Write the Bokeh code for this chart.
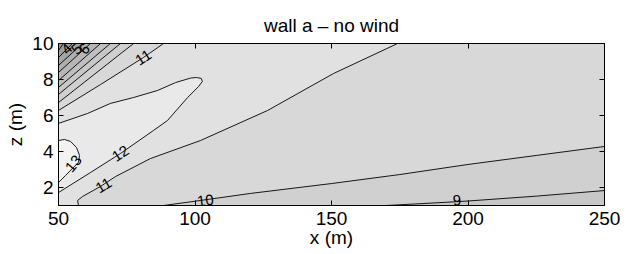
from math import radians
from bokeh.plotting import figure
from bokeh.models import Range1d, FixedTicker, LinearAxis, Label
from bokeh.embed import file_html
from bokeh.resources import INLINE

# ---- data (x in m, z in m) ----
x_ticks = [50, 100, 150, 200, 250]
z_ticks = [2, 4, 6, 8, 10]

# contour 13 (closed against the left wall)
c13_x = [50, 52.2, 54.4, 56.6, 57.7, 57.3, 55.1, 52.6, 50]
c13_z = [4.61, 4.67, 4.56, 4.22, 3.78, 3.39, 3.06, 2.67, 2.28]

# contour 12 (closed against the left wall)
c12_x = [50, 61.7, 72.7, 84.8, 89.9, 97.3, 101.3, 102.7, 102.3, 100.5, 98.4, 92.9, 86.3, 77.5, 69.0, 60.6, 50]
c12_z = [1.72, 2.83, 3.89, 5.17, 5.72, 7.0, 7.61, 7.89, 8.06, 8.11, 8.08, 7.83, 7.39, 7.0, 6.67, 6.11, 5.56]

# contour 11, lower branch (bottom edge to top edge)
c11b_x = [57.3, 57.0, 58.8, 65.4, 70.9, 83.7, 102.0, 126.6, 150.7, 174.2]
c11b_z = [1.0, 1.28, 1.5, 2.06, 2.61, 3.61, 4.61, 6.28, 8.33, 10.0]

# contour 11, upper branch (left edge to top edge)
c11a_x = [50, 65.4, 81.1, 88.5]
c11a_z = [6.28, 7.72, 9.22, 10.0]

# contour 10 (bottom edge to right edge)
c10_x = [88.5, 102, 120.3, 150, 175, 200, 225, 250]
c10_z = [1.0, 1.28, 1.67, 2.22, 2.72, 3.28, 3.78, 4.28]

# contour 9 (bottom edge to right edge)
c9_x = [170, 185, 200, 225, 250]
c9_z = [1.0, 1.12, 1.25, 1.52, 1.83]

# corner contours near the top of the wall
corner_levels = [10, 9, 8, 7, 6, 5, 4, 3]
corner_z_left = [6.72, 7.17, 7.56, 7.94, 8.39, 8.78, 9.22, 9.61]
corner_x_top = [77.5, 72.7, 69.0, 65.4, 61.7, 58.8, 55.1, 51.8]

# contour labels
lab_text = ["13", "12", "11", "11", "10", "9", "4", "5", "6"]
lab_x = [55.5, 72.7, 66.5, 81.1, 103.8, 196.0, 53.1, 56.6, 59.5]
lab_z = [3.33, 3.89, 2.11, 9.22, 1.28, 1.28, 9.70, 9.70, 9.70]
lab_ang = [50, 33, 31, 33, 7, 5, 45, 43, 42]


def band_color(lower_level):
    g = int(max(0, min(255, 242 - (13 - lower_level) * 8.5)))
    return "#%02x%02x%02x" % (g, g, g)


FONT = "Liberation Sans"

p = figure(width=626, height=254, x_range=Range1d(50, 250), y_range=Range1d(1, 10),
           output_backend="svg", toolbar_location=None, title="wall a \u2013 no wind",
           min_border_left=58, min_border_right=22, min_border_top=43, min_border_bottom=49)
p.grid.visible = False
p.outline_line_color = "black"
p.outline_line_width = 1
p.background_fill_color = "white"
p.title.align = "center"
p.title.text_font = FONT
p.title.text_font_size = "19px"
p.title.text_font_style = "normal"
p.title.text_color = "black"
p.title.standoff = 16

# ---- filled bands ----
x0, x1 = p.x_range.start, p.x_range.end
z0, z1 = p.y_range.start, p.y_range.end
p.patch([x0, x1, x1, x0], [z0, z0, z1, z1], fill_color=band_color(10), line_color=None)
p.patch(c10_x + [x1], c10_z + [z0], fill_color=band_color(9), line_color=None)
p.patch(c9_x + [x1], c9_z + [z0], fill_color=band_color(8), line_color=None)
p.patch([x0] + c11a_x + c11b_x[::-1], [z0] + c11a_z + c11b_z[::-1],
        fill_color=band_color(11), line_color=None)
p.patch(c12_x, c12_z, fill_color=band_color(12), line_color=None)
p.patch(c13_x, c13_z, fill_color=band_color(13), line_color=None)
for lev, zl, xt in zip(corner_levels, corner_z_left, corner_x_top):
    p.patch([x0, xt, x0], [zl, z1, z1], fill_color=band_color(lev - 1), line_color=None)

# ---- contour lines ----
LW = 0.9
for xs, zs in [(c13_x, c13_z), (c12_x, c12_z), (c11b_x, c11b_z), (c11a_x, c11a_z),
               (c10_x, c10_z), (c9_x, c9_z)]:
    p.line(xs, zs, line_color="black", line_width=LW)
for zl, xt in zip(corner_z_left, corner_x_top):
    p.line([x0, xt], [zl, z1], line_color="black", line_width=LW)

# ---- contour labels ----
for t, lx, lz, a in zip(lab_text, lab_x, lab_z, lab_ang):
    p.add_layout(Label(x=lx, y=lz, text=t, angle=radians(a), text_align="center",
                       text_baseline="middle", text_font=FONT, text_font_size="15px",
                       text_color="black"))

# ---- axes ----
for ax in p.xaxis:
    ax.ticker = FixedTicker(ticks=x_ticks)
for ax in p.yaxis:
    ax.ticker = FixedTicker(ticks=z_ticks)
for ax in list(p.xaxis) + list(p.yaxis):
    ax.major_tick_in = 5
    ax.major_tick_out = 0
    ax.minor_tick_line_color = None
    ax.axis_line_color = "black"
    ax.major_tick_line_color = "black"
    ax.major_label_text_font = FONT
    ax.major_label_text_font_size = "19px"
    ax.major_label_text_color = "black"
    ax.axis_label_text_font = FONT
    ax.axis_label_text_font_size = "19px"
    ax.axis_label_text_font_style = "normal"
    ax.axis_label_text_color = "black"
p.xaxis.major_label_standoff = 6
p.yaxis.major_label_standoff = 5
p.xaxis.axis_label = "x (m)"
p.yaxis.axis_label = "z (m)"
p.xaxis.axis_label_standoff = -1
p.yaxis.axis_label_standoff = 3

top_ax = LinearAxis(ticker=FixedTicker(ticks=x_ticks))
right_ax = LinearAxis(ticker=FixedTicker(ticks=z_ticks))
for ax in (top_ax, right_ax):
    ax.major_tick_in = 5
    ax.major_tick_out = 0
    ax.minor_tick_line_color = None
    ax.major_label_text_font_size = "0px"
    ax.major_label_text_color = None
    ax.major_label_standoff = 0
    ax.axis_line_color = "black"
p.add_layout(top_ax, "above")
p.add_layout(right_ax, "right")

open("out.html", "w").write(file_html(p, INLINE))
